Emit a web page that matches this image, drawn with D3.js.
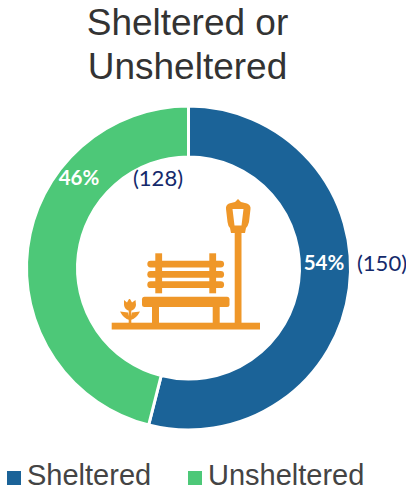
<!DOCTYPE html>
<html>
<head>
<meta charset="utf-8">
<script src="https://cdn.jsdelivr.net/npm/d3@7"></script>
<style>
  html, body { margin: 0; padding: 0; background: #fff; overflow: hidden; }
  svg { display: block; }
</style>
</head>
<body>
<svg id="chart" width="406" height="489"></svg>
<script>
const categories = ['Sheltered', 'Unsheltered'];
const counts = [150, 128];
const percentLabels = ['54%', '46%'];
const countLabels = ['(150)', '(128)'];
const colors = ['#1b6398', '#4dc878'];
const titleLines = ['Sheltered or', 'Unsheltered'];

const svg = d3.select('#chart');
const cx = 188.5, cy = 268;
const sans = '"Liberation Sans", Arial, sans-serif';
const labelFont = 'Lato, "Open Sans", sans-serif';

// title
svg.selectAll('text.title')
  .data(titleLines)
  .join('text')
  .attr('class', 'title')
  .attr('x', 187.5)
  .attr('y', (d, i) => 35 + i * 44)
  .attr('text-anchor', 'middle')
  .attr('font-family', sans)
  .attr('font-size', 37)
  .attr('fill', '#333333')
  .text(d => d);

// ring
const pie = d3.pie().sort(null)(counts);
const arc = d3.arc().innerRadius(111).outerRadius(162);
const ring = svg.append('g').attr('transform', `translate(${cx},${cy})`);

ring.selectAll('path')
  .data(pie)
  .join('path')
  .attr('d', arc)
  .attr('fill', (d, i) => colors[i])
  .attr('stroke', '#fff')
  .attr('stroke-width', 3);

// labels, placed by hand like the original
const pctPos = [[324, 265], [79, 180]];
const countPos = [[382, 265], [158, 180]];

svg.selectAll('text.pct')
  .data(percentLabels)
  .join('text')
  .attr('class', 'pct')
  .attr('x', (d, i) => pctPos[i][0])
  .attr('y', (d, i) => pctPos[i][1])
  .attr('text-anchor', 'middle')
  .attr('dominant-baseline', 'middle')
  .attr('font-family', labelFont)
  .attr('font-weight', 700)
  .attr('font-size', 20.5)
  .attr('fill', '#fff')
  .text(d => d);

svg.selectAll('text.count')
  .data(countLabels)
  .join('text')
  .attr('class', 'count')
  .attr('x', (d, i) => countPos[i][0])
  .attr('y', (d, i) => countPos[i][1])
  .attr('text-anchor', 'middle')
  .attr('dominant-baseline', 'middle')
  .attr('font-family', labelFont)
  .attr('font-size', 22)
  .attr('fill', '#14296b')
  .text(d => d);

// bench icon
const icon = svg.append('g').attr('fill', '#ef9729');
const bars = [
  [111.7, 322.7, 148.3, 6.8, 0],   // ground
  [234.7, 232, 6.8, 92, 0],        // lamp post
  [142, 296.7, 87.5, 10.3, 2.5],   // seat
  [152, 306, 7, 18, 0],            // legs
  [212.7, 306, 7, 18, 0],
  [147.3, 260.7, 76.8, 6.8, 3.4],  // back slats
  [147.3, 271, 76.8, 6.8, 3.4],
  [147.3, 281.3, 76.8, 6.8, 3.4],
  [155.3, 253.3, 6.8, 40, 0],      // uprights
  [209.3, 253.3, 6.8, 40, 0],
  [128.7, 310, 2.6, 14, 0]         // flower stem
];
icon.selectAll('rect')
  .data(bars)
  .join('rect')
  .attr('x', d => d[0])
  .attr('y', d => d[1])
  .attr('width', d => d[2])
  .attr('height', d => d[3])
  .attr('rx', d => d[4]);

// lamp head with a window cut out
icon.append('path')
  .attr('fill-rule', 'evenodd')
  .attr('d', 'M238 199 L241 202 L247 203.5 Q251 205 250.5 209 L249 222 Q248 226 246 228 L245 233 L231 233 L230 228 Q228 226 227.5 222 L226 209 Q225.500 205 229 203.5 L235 202 Z M232.500 209 L243.500 209 L241.500 225.500 L234.500 225.500 Z');

// tulip and leaves
icon.append('path')
  .attr('d', 'M124 300 L127 302.500 L129 299 L130 299 L132 302.500 L135.500 300 L136 305 Q135.500 310 130 311 Q124.500 310 124 305 Z');
icon.append('path')
  .attr('d', 'M120 311.500 L128 312.500 Q129.500 317 129.500 320 Q123.500 318.500 120 311.500 Z M140 311.500 L132 312.500 Q130.500 317 130.500 320 Q136.500 318.500 140 311.500 Z');

// legend
const legendX = [7, 188];
const legend = svg.selectAll('g.legend')
  .data(categories)
  .join('g')
  .attr('class', 'legend')
  .attr('transform', (d, i) => `translate(${legendX[i]},471)`);

legend.append('rect')
  .attr('width', 14)
  .attr('height', 14)
  .attr('fill', (d, i) => colors[i]);

legend.append('text')
  .attr('x', 20)
  .attr('y', 13.500)
  .attr('font-family', sans)
  .attr('font-size', 29)
  .attr('fill', '#444444')
  .text(d => d);
</script>
</body>
</html>
